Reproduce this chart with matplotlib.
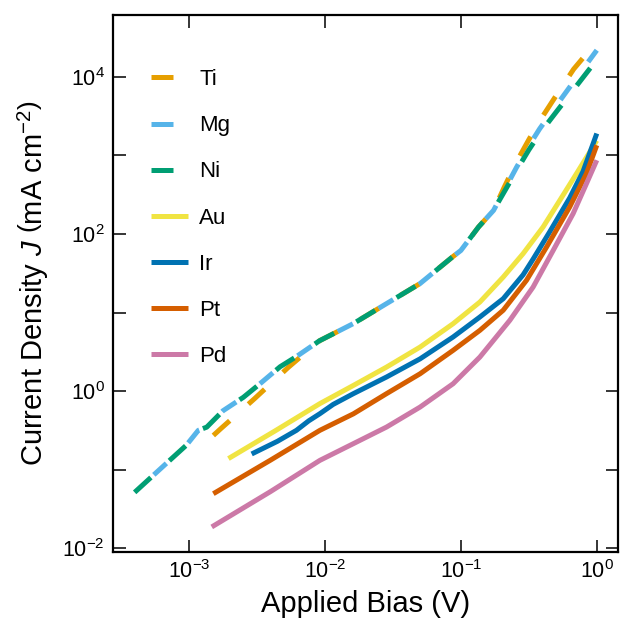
import matplotlib
matplotlib.use('Agg')
from matplotlib import pyplot as plt
from matplotlib.lines import Line2D
from matplotlib.ticker import FixedLocator, FuncFormatter, NullLocator
import numpy as np

plt.rcParams['font.family'] = ['Liberation Sans', 'DejaVu Sans']
plt.rcParams['mathtext.fontset'] = 'custom'
plt.rcParams['mathtext.rm'] = 'Liberation Sans'
plt.rcParams['mathtext.it'] = 'Liberation Sans:italic'
plt.rcParams['mathtext.bf'] = 'Liberation Sans:bold'

# bias (V) / current density (mA cm^-2)
v_dash = [3.98e-4, 7.24e-4, 9.55e-4, 1.17e-3, 1.35e-3, 1.78e-3, 2.51e-3, 3.31e-3,
          4.68e-3, 6.17e-3, 9.12e-3, 0.0162, 0.0282, 0.0501, 0.0871, 0.100, 0.135,
          0.174, 0.209, 0.257, 0.316, 0.380, 0.501, 0.676, 1.0]
j_mg = [0.0513, 0.132, 0.204, 0.316, 0.347, 0.562, 0.832, 1.23, 2.04, 2.75, 4.37,
        7.24, 12.9, 23.4, 51.3, 61.7, 123, 200, 363, 708, 1318, 2188, 4266, 8710, 21900]
j_ni = [0.0513, 0.132, 0.204, 0.316, 0.347, 0.562, 0.832, 1.23, 2.04, 2.75, 4.37,
        7.24, 12.9, 23.4, 51.3, 61.7, 123, 200, 347, 646, 1175, 1905, 3548, 6918, 16600]

v_ti = [1.51e-3, 1.71e-3, 3.02e-3, 5.37e-3, 9.12e-3, 0.0162, 0.0282, 0.0501, 0.0871,
        0.100, 0.135, 0.174, 0.209, 0.257, 0.316, 0.380, 0.501, 0.676, 1.0]
j_ti = [0.272, 0.331, 0.794, 2.0, 4.37, 7.24, 12.9, 23.4, 51.3, 61.7, 123, 200,
        398, 832, 1585, 2754, 5754, 12590, 28200]

v_au = [1.95e-3, 4.27e-3, 9.18e-3, 0.0162, 0.0284, 0.0501, 0.0877, 0.138, 0.205,
        0.287, 0.403, 0.535, 0.710, 1.0]
j_au = [0.138, 0.309, 0.692, 1.18, 2.02, 3.63, 7.21, 13.6, 28.3, 56.2, 123, 269, 589, 1550]

v_ir = [2.89e-3, 4.47e-3, 6.17e-3, 7.59e-3, 9.18e-3, 0.0115, 0.0162, 0.0284, 0.0501,
        0.0877, 0.138, 0.205, 0.287, 0.340, 0.451, 0.632, 0.794, 1.0]
j_ir = [0.158, 0.229, 0.316, 0.417, 0.515, 0.676, 0.927, 1.51, 2.57, 4.88, 8.77, 15.0,
        30.2, 47.9, 107, 288, 631, 1905]

v_pt = [1.51e-3, 3.98e-3, 9.18e-3, 0.0162, 0.0284, 0.0501, 0.0877, 0.138, 0.205,
        0.304, 0.427, 0.632, 0.839, 1.0]
j_pt = [0.0493, 0.132, 0.316, 0.513, 0.927, 1.66, 3.30, 5.93, 10.7, 25.7, 68.2, 221,
        589, 1350]

v_pd = [1.47e-3, 3.98e-3, 9.18e-3, 0.0162, 0.0284, 0.0501, 0.0877, 0.138, 0.229,
        0.340, 0.478, 0.670, 0.839, 1.0]
j_pd = [0.0186, 0.0525, 0.131, 0.214, 0.348, 0.625, 1.24, 2.71, 7.94, 21.1, 61.9, 182,
        437, 871]

x_ticks = [1e-3, 1e-2, 1e-1, 1e0]
y_ticks = [1e-2, 1e-1, 1e0, 1e1, 1e2, 1e3, 1e4]

colors = {'Ti': '#E69F00', 'Mg': '#56B4E9', 'Ni': '#009E73', 'Au': '#F0E442',
          'Ir': '#0072B2', 'Pt': '#D55E00', 'Pd': '#CC79A7'}

lw = 3.6
dash_main = (0, (4.4, 5.0))
dash_mg = (4.2, (3.4, 6.0))

fig = plt.figure(figsize=(6.21, 6.22), dpi=100)
ax = fig.add_axes([0.182, 0.1125, 0.813, 0.8635])

ax.plot(v_ti, j_ti, color=colors['Ti'], lw=lw, linestyle=dash_main, zorder=2)
ax.plot(v_dash, j_ni, color=colors['Ni'], lw=lw, linestyle=dash_main, zorder=3)
ax.plot(v_dash, j_mg, color=colors['Mg'], lw=lw, linestyle=dash_mg, zorder=4)
for name, v, j in [('Au', v_au, j_au), ('Ir', v_ir, j_ir),
                   ('Pt', v_pt, j_pt), ('Pd', v_pd, j_pd)]:
    ax.plot(v, j, color=colors[name], lw=lw, solid_capstyle='butt',
            solid_joinstyle='round', zorder=2)

ax.set_xscale('log')
ax.set_yscale('log')
ax.set_xlim(2.76e-4, 1.43)
ax.set_ylim(10**-2.05, 10**4.79)

ax.xaxis.set_major_locator(FixedLocator(x_ticks))
ax.yaxis.set_major_locator(FixedLocator(y_ticks))
ax.xaxis.set_minor_locator(NullLocator())
ax.yaxis.set_minor_locator(NullLocator())


def fmt_x(val, pos):
    e = int(round(np.log10(val)))
    return r'10$^{\mathregular{%d}}$' % e


def fmt_y(val, pos):
    e = int(round(np.log10(val)))
    if e % 2:
        return ''
    return r'10$^{\mathregular{%d}}$' % e


ax.xaxis.set_major_formatter(FuncFormatter(fmt_x))
ax.yaxis.set_major_formatter(FuncFormatter(fmt_y))
ax.tick_params(which='both', direction='in', top=True, right=True,
               length=9, width=1.1, labelsize=15.5, pad=6)
for sp in ax.spines.values():
    sp.set_linewidth(1.6)

ax.set_xlabel('Applied Bias (V)', fontsize=21, labelpad=5)
ax.set_ylabel(r'Current Density $J\ \left(\mathregular{mA\ cm^{-2}}\right)$',
              fontsize=21, labelpad=8)

handles = [
    Line2D([], [], color=colors['Ti'], lw=lw, linestyle=dash_main),
    Line2D([], [], color=colors['Mg'], lw=lw, linestyle=dash_main),
    Line2D([], [], color=colors['Ni'], lw=lw, linestyle=dash_main),
]
for name in ['Au', 'Ir', 'Pt', 'Pd']:
    handles.append(Line2D([], [], color=colors[name], lw=lw, solid_capstyle='butt'))
labels = ['Ti', 'Mg', 'Ni', 'Au', 'Ir', 'Pt', 'Pd']
ax.legend(handles, labels, loc='upper left', bbox_to_anchor=(0.075, 0.899),
          frameon=False, fontsize=16, handlelength=1.67, handletextpad=0.5,
          labelspacing=1.13, borderpad=0, borderaxespad=0)

fig.savefig('out.png', dpi=100)
